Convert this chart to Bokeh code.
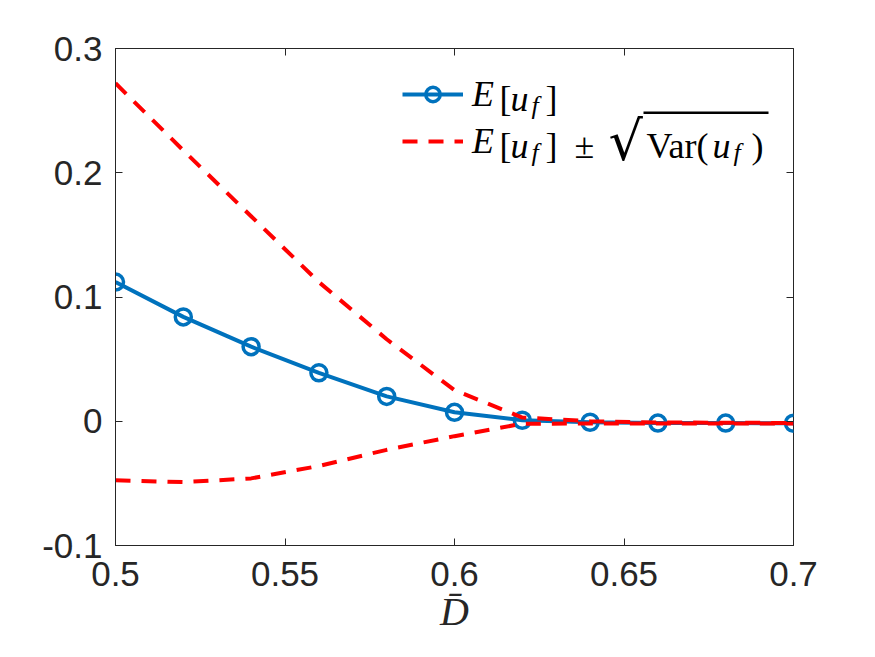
from bokeh.plotting import figure
from bokeh.models import (Range1d, LinearAxis, FixedTicker, Legend, LegendItem,
                          Label, BoxAnnotation, ColumnDataSource)
from bokeh.embed import file_html
from bokeh.resources import INLINE

# ---- data ----
d_bar = [0.50, 0.52, 0.54, 0.56, 0.58, 0.60, 0.62, 0.64, 0.66, 0.68, 0.70]
mean_uf = [0.112, 0.084, 0.060, 0.039, 0.020, 0.0072, 0.0008, -0.0008, -0.0015, -0.0015, -0.0016]
upper_uf = [0.272, 0.218, 0.165, 0.112, 0.066, 0.025, 0.003, 0.0, -0.001, -0.0012, -0.0014]
lower_uf = [-0.0475, -0.049, -0.046, -0.036, -0.023, -0.012, -0.002, -0.0018, -0.0018, -0.0018, -0.0018]
x_ticks = [0.5, 0.55, 0.6, 0.65, 0.7]
y_ticks = [-0.1, 0.0, 0.1, 0.2, 0.3]
x_tick_labels = {0.5: "0.5", 0.55: "0.55", 0.6: "0.6", 0.65: "0.65", 0.7: "0.7"}
y_tick_labels = {-0.1: "-0.1", 0.0: "0", 0.1: "0.1", 0.2: "0.2", 0.3: "0.3"}

W, H = 875, 657
FL, FR, FT, FB = 115, 793, 48, 545  # frame edges in px
XMIN, XMAX, YMIN, YMAX = 0.5, 0.7, -0.1, 0.3

def px2x(px):
    return XMIN + (px - FL) * (XMAX - XMIN) / (FR - FL)

def py2y(py):
    return YMAX - (py - FT) * (YMAX - YMIN) / (FB - FT)

p = figure(width=W, height=H, output_backend="svg", toolbar_location=None,
           x_range=Range1d(XMIN, XMAX), y_range=Range1d(YMIN, YMAX),
           min_border_left=FL, min_border_right=W - FR,
           min_border_top=FT, min_border_bottom=H - FB)
p.background_fill_color = "white"
p.border_fill_color = "white"
p.outline_line_color = "#262626"
p.outline_line_width = 1
p.xgrid.visible = False
p.ygrid.visible = False

axcol = "#262626"
for ax in (p.xaxis[0], p.yaxis[0]):
    ax.axis_line_color = axcol
    ax.major_tick_line_color = axcol
    ax.major_tick_in = 7
    ax.major_tick_out = 0
    ax.minor_tick_line_color = None
    ax.major_label_text_font = "Liberation Sans"
    ax.major_label_text_font_size = "35px"
    ax.major_label_text_color = axcol

p.xaxis[0].ticker = FixedTicker(ticks=x_ticks)
p.xaxis[0].major_label_overrides = x_tick_labels
p.xaxis[0].major_label_standoff = 16
p.yaxis[0].ticker = FixedTicker(ticks=y_ticks)
p.yaxis[0].major_label_overrides = y_tick_labels
p.yaxis[0].major_label_standoff = 13

p.xaxis[0].axis_label = "D\u0304"
p.xaxis[0].axis_label_text_font = "Liberation Serif"
p.xaxis[0].axis_label_text_font_style = "italic"
p.xaxis[0].axis_label_text_font_size = "40px"
p.xaxis[0].axis_label_text_color = axcol
p.xaxis[0].axis_label_standoff = 0

# mirrored ticks (box on)
top_ax = LinearAxis(ticker=FixedTicker(ticks=x_ticks),
                    major_label_overrides={t: "" for t in x_ticks},
                    axis_line_color=None, major_tick_in=7, major_tick_out=0,
                    major_tick_line_color=axcol, minor_tick_line_color=None)
right_ax = LinearAxis(ticker=FixedTicker(ticks=y_ticks),
                      major_label_overrides={t: "" for t in y_ticks},
                      axis_line_color=None, major_tick_in=7, major_tick_out=0,
                      major_tick_line_color=axcol, minor_tick_line_color=None)
p.add_layout(top_ax, "above")
p.add_layout(right_ax, "right")

src = ColumnDataSource(dict(x=d_bar, m=mean_uf, u=upper_uf, l=lower_uf))
blue = "#0072BD"
red = "#FF0000"
ln = p.line("x", "m", source=src, line_color=blue, line_width=4)
sc = p.scatter("x", "m", source=src, marker="circle", size=16, line_color=blue,
               line_width=3.5, fill_alpha=0)
ru = p.line("x", "u", source=src, line_color=red, line_width=4, line_dash="15 11")
rl = p.line("x", "l", source=src, line_color=red, line_width=4, line_dash="15 11")

legend = Legend(items=[LegendItem(label="E", renderers=[ln, sc]),
                       LegendItem(label="E", renderers=[ru])],
                orientation="vertical",
                glyph_width=61, glyph_height=36, spacing=5, padding=0, margin=0,
                label_text_font="Liberation Serif", label_text_font_style="italic",
                label_text_font_size="36px", label_standoff=9,
                label_text_color="black",
                border_line_color=None, background_fill_alpha=0)
legend.location = (402 - FL, FB - 162)
p.add_layout(legend)

# rest of the legend text (TeX-like) composed of pieces
FS = "36px"
SFS = "26px"
def lab(px, py, text, style="normal", size=FS, font="Liberation Serif"):
    p.add_layout(Label(x=px2x(px), y=py2y(py), text=text, text_font=font,
                       text_font_style=style, text_font_size=size,
                       text_color="black", text_align="left",
                       text_baseline="alphabetic"))

B1, B2 = 98, 145
def e_uf(base):
    lab(499, base, "[")
    lab(510, base, "u", "italic")
    lab(531, base + 7, "f", "italic", SFS)
    lab(545, base, "]")

e_uf(B1)
e_uf(B2)
lab(574, B2, "\u00b1")
lab(608, B2 - 4, "\u221a", size="54px", font="DejaVu Serif")
p.add_layout(BoxAnnotation(left=px2x(643), right=px2x(768), top=py2y(B2 - 34),
                           bottom=py2y(B2 - 31.5), fill_color="black", fill_alpha=1,
                           line_color=None))
lab(646, B2, "Var(")
lab(712, B2, "u", "italic")
lab(733, B2 + 7, "f", "italic", SFS)
lab(751, B2, ")")

open("out.html", "w").write(file_html(p, INLINE))
